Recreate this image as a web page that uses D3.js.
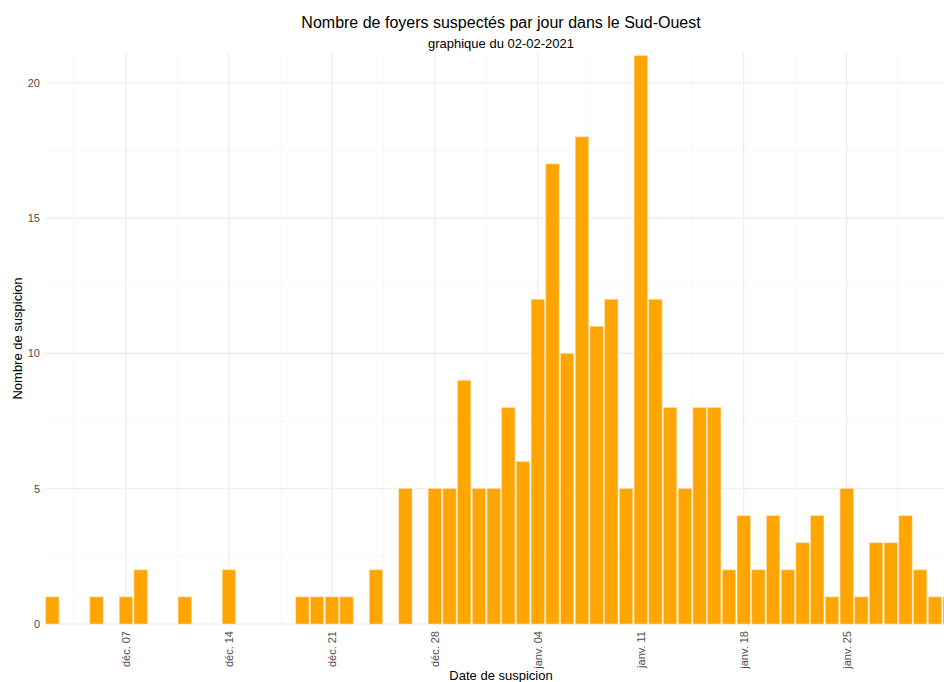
<!DOCTYPE html>
<html>
<head>
<meta charset="utf-8">
<script src="https://cdn.jsdelivr.net/npm/d3@7"></script>
<style>
  html, body { margin: 0; padding: 0; background: #fff; }
  svg { display: block; font-family: "Liberation Sans", Arial, Helvetica, sans-serif; }
</style>
</head>
<body>
<svg id="chart" width="944" height="682"></svg>
<script>
// ---- Data ----
const dates = [
  "2020-12-02","2020-12-05","2020-12-07","2020-12-08","2020-12-11","2020-12-14",
  "2020-12-19","2020-12-20","2020-12-21","2020-12-22","2020-12-24","2020-12-26",
  "2020-12-28","2020-12-29","2020-12-30","2020-12-31","2021-01-01","2021-01-02",
  "2021-01-03","2021-01-04","2021-01-05","2021-01-06","2021-01-07","2021-01-08",
  "2021-01-09","2021-01-10","2021-01-11","2021-01-12","2021-01-13","2021-01-14",
  "2021-01-15","2021-01-16","2021-01-17","2021-01-18","2021-01-19","2021-01-20",
  "2021-01-21","2021-01-22","2021-01-23","2021-01-24","2021-01-25","2021-01-26",
  "2021-01-27","2021-01-28","2021-01-29","2021-01-30","2021-01-31","2021-02-01"
];
const counts = [
  1,1,1,2,1,2,
  1,1,1,1,2,5,
  5,5,9,5,5,8,
  6,12,17,10,18,11,
  12,5,21,12,8,5,
  8,8,2,4,2,4,
  2,3,4,1,5,1,
  3,3,4,2,1,1
];
const xTickDates = ["2020-12-07","2020-12-14","2020-12-21","2020-12-28","2021-01-04","2021-01-11","2021-01-18","2021-01-25"];
const xTickLabels = ["déc. 07","déc. 14","déc. 21","déc. 28","janv. 04","janv. 11","janv. 18","janv. 25"];
const xMinorDates = ["2020-12-03T12:00:00Z","2020-12-10T12:00:00Z","2020-12-17T12:00:00Z","2020-12-24T12:00:00Z",
  "2020-12-31T12:00:00Z","2021-01-07T12:00:00Z","2021-01-14T12:00:00Z","2021-01-21T12:00:00Z","2021-01-28T12:00:00Z"];
const yTicks = [0, 5, 10, 15, 20];
const yMinorTicks = [2.5, 7.5, 12.5, 17.5];
const xDomain = ["2020-12-01T12:00:00Z", "2021-02-01T12:00:00Z"];
const yMax = 21.1;
const title = "Nombre de foyers suspectés par jour dans le Sud-Ouest";
const subtitle = "graphique du 02-02-2021";
const xTitle = "Date de suspicion";
const yTitle = "Nombre de suspicion";

// ---- Layout ----
const svg = d3.select("#chart");
const pLeft = 45, pRight = 957, pTop = 53, pBottom = 624;
const parse = s => new Date(s.length === 10 ? s + "T00:00:00Z" : s);
const DAY = 86400000;

const x = d3.scaleUtc().domain(xDomain.map(parse)).range([pLeft, pRight]);
const y = d3.scaleLinear().domain([0, yMax]).range([pBottom, pTop]);
const dayW = x(new Date(parse(xDomain[0]).getTime() + DAY)) - x(parse(xDomain[0]));
const barW = dayW * 0.9;

const data = dates.map((d, i) => ({ date: parse(d), value: counts[i] }));

// Grid
const grid = svg.append("g");
grid.selectAll("line.hmin").data(yMinorTicks).join("line")
  .attr("x1", pLeft).attr("x2", pRight)
  .attr("y1", d => y(d)).attr("y2", d => y(d))
  .attr("stroke", "#f3f3f3").attr("stroke-width", 0.6);
grid.selectAll("line.vmin").data(xMinorDates.map(parse)).join("line")
  .attr("x1", d => x(d)).attr("x2", d => x(d))
  .attr("y1", pTop).attr("y2", pBottom)
  .attr("stroke", "#f3f3f3").attr("stroke-width", 0.6);
grid.selectAll("line.hmaj").data(yTicks).join("line")
  .attr("x1", pLeft).attr("x2", pRight)
  .attr("y1", d => y(d)).attr("y2", d => y(d))
  .attr("stroke", "#ebebeb").attr("stroke-width", 1.1);
grid.selectAll("line.vmaj").data(xTickDates.map(parse)).join("line")
  .attr("x1", d => x(d)).attr("x2", d => x(d))
  .attr("y1", pTop).attr("y2", pBottom)
  .attr("stroke", "#ebebeb").attr("stroke-width", 1.1);

// Bars
svg.append("g").selectAll("rect").data(data).join("rect")
  .attr("x", d => x(d.date) - barW / 2)
  .attr("width", barW)
  .attr("y", d => y(d.value))
  .attr("height", d => y(0) - y(d.value))
  .attr("fill", "#FFA500")
  .attr("stroke", "#ffdb99")
  .attr("stroke-width", 0.6);

// Y axis
const yAxis = d3.axisLeft(y).tickValues(yTicks).tickSize(0).tickPadding(5).tickFormat(d3.format("d"));
const yg = svg.append("g").attr("transform", `translate(${pLeft},0)`).call(yAxis);
yg.select(".domain").remove();
yg.selectAll("text").attr("fill", "#4d4d4d").style("font-size", "11px")
  .style("font-family", '"Liberation Sans", Arial, sans-serif');

// X axis
const xAxis = d3.axisBottom(x).tickValues(xTickDates.map(parse)).tickSize(0)
  .tickFormat((d, i) => xTickLabels[i]);
const xg = svg.append("g").attr("transform", `translate(0,${pBottom})`).call(xAxis);
xg.select(".domain").remove();
xg.selectAll("text")
  .attr("fill", "#4d4d4d").style("font-size", "11px")
  .style("font-family", '"Liberation Sans", Arial, sans-serif')
  .attr("transform", "rotate(-90)")
  .attr("x", -7).attr("y", 0).attr("dy", "0.35em")
  .attr("text-anchor", "end");

// Titles
const cx = (pLeft + pRight) / 2;
svg.append("text").attr("x", cx).attr("y", 28).attr("text-anchor", "middle")
  .style("font-size", "16px").attr("fill", "#000").text(title);
svg.append("text").attr("x", cx).attr("y", 48).attr("text-anchor", "middle")
  .style("font-size", "13px").attr("fill", "#000").text(subtitle);
svg.append("text").attr("x", cx).attr("y", 680).attr("text-anchor", "middle")
  .style("font-size", "13px").attr("fill", "#000").text(xTitle);
svg.append("text").attr("transform", `translate(22,${(pTop + pBottom) / 2}) rotate(-90)`)
  .attr("text-anchor", "middle")
  .style("font-size", "13px").attr("fill", "#000").text(yTitle);
</script>
</body>
</html>
